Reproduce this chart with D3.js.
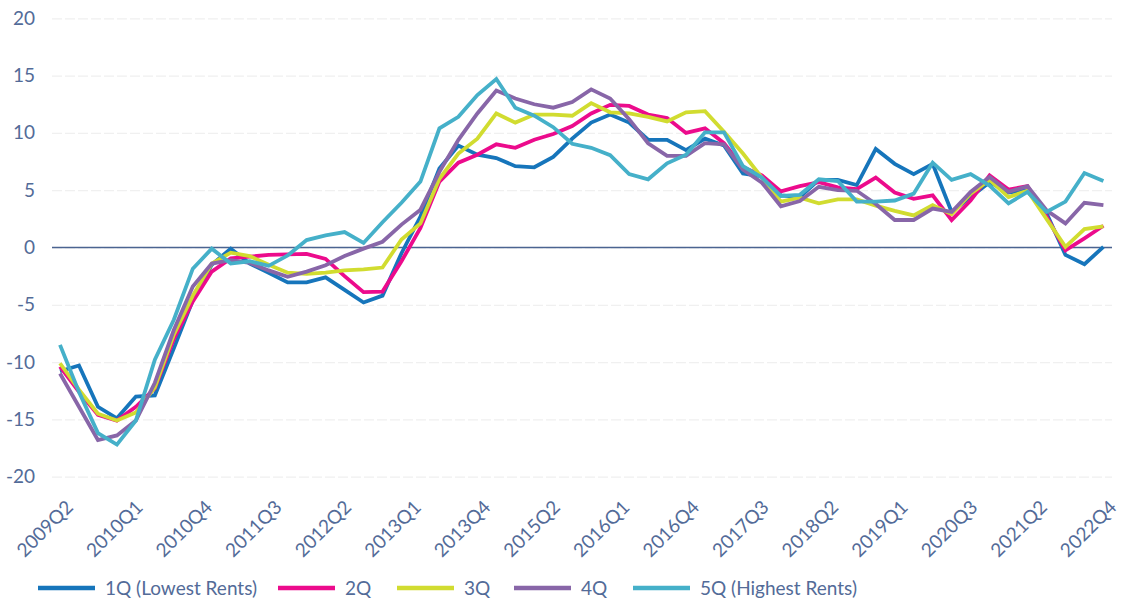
<!DOCTYPE html>
<html>
<head>
<meta charset="utf-8">
<script src="https://cdn.jsdelivr.net/npm/d3@7"></script>
<style>
    body { margin: 0; background: #ffffff; }
    text { font-family: Lato, "Noto Sans", sans-serif; font-weight: 400; fill: #536b98; }
</style>
</head>
<body>
<script>
// quarters on the x axis (one point per quarter)
const quarters = [
    "2009Q1", "2009Q2", "2009Q3", "2009Q4", "2010Q1", "2010Q2", "2010Q3", "2010Q4",
    "2011Q1", "2011Q2", "2011Q3", "2011Q4", "2012Q1", "2012Q2", "2012Q3", "2012Q4",
    "2013Q1", "2013Q2", "2013Q3", "2013Q4", "2014Q1", "2014Q2", "2014Q3", "2014Q4",
    "2015Q1", "2015Q2", "2015Q3", "2015Q4", "2016Q1", "2016Q2", "2016Q3", "2016Q4",
    "2017Q1", "2017Q2", "2017Q3", "2017Q4", "2018Q1", "2018Q2", "2018Q3", "2018Q4",
    "2019Q1", "2019Q2", "2019Q3", "2019Q4", "2020Q1", "2020Q2", "2020Q3", "2020Q4",
    "2021Q1", "2021Q2", "2021Q3", "2021Q4", "2022Q1", "2022Q2", "2022Q3", "2022Q4"
];

// labels shown under the axis
const tick_labels = ["2009Q2", "2010Q1", "2010Q4", "2011Q3", "2012Q2", "2013Q1", "2013Q4", "2015Q2",
    "2016Q1", "2016Q4", "2017Q3", "2018Q2", "2019Q1", "2020Q3", "2021Q2", "2022Q4"];
const y_ticks = [-20, -15, -10, -5, 0, 5, 10, 15, 20];

const series_names = ["1Q (Lowest Rents)", "2Q", "3Q", "4Q", "5Q (Highest Rents)"];

const q1_values = [
    -10.8, -10.3, -13.9, -14.9, -13.0, -12.9, -8.8, -4.6,
    -1.5, -0.1, -1.4, -2.2, -3.05, -3.05, -2.6, -3.7,
    -4.8, -4.2, -0.5, 2.7, 6.9, 8.9, 8.1, 7.8,
    7.1, 7.0, 7.9, 9.5, 10.9, 11.6, 10.9, 9.4,
    9.4, 8.5, 9.5, 8.9, 6.45, 6.2, 4.55, 4.4,
    5.9, 5.9, 5.45, 8.6, 7.3, 6.4, 7.3, 3.1,
    4.4, 5.7, 4.8, 5.0, 3.0, -0.65, -1.45, 0.05
];
const q2_values = [
    -10.4, -12.6, -14.6, -15.1, -13.9, -12.3, -8.0, -4.7,
    -2.1, -0.95, -0.8, -0.65, -0.6, -0.55, -1.0, -2.5,
    -3.9, -3.85, -1.2, 1.7, 5.75, 7.4, 8.1, 9.0,
    8.7, 9.4, 9.9, 10.6, 11.7, 12.45, 12.35, 11.6,
    11.3, 10.0, 10.4, 9.1, 7.0, 6.3, 4.9, 5.35,
    5.7, 5.25, 5.1, 6.1, 4.8, 4.25, 4.55, 2.4,
    4.1, 6.3, 5.05, 5.35, 2.7, -0.25, 0.8, 1.9
];
const q3_values = [
    -10.1, -12.4, -14.5, -15.1, -14.4, -12.2, -7.6, -4.2,
    -1.4, -0.45, -0.75, -1.5, -2.2, -2.3, -2.2, -2.0,
    -1.9, -1.75, 0.7, 2.1, 6.0, 8.2, 9.5, 11.7,
    10.9, 11.6, 11.6, 11.5, 12.6, 11.8, 11.7, 11.4,
    11.0, 11.8, 11.9, 10.1, 8.2, 6.1, 4.0, 4.35,
    3.85, 4.2, 4.2, 3.65, 3.2, 2.8, 3.7, 2.9,
    4.7, 5.9, 4.4, 4.95, 2.5, 0.05, 1.6, 1.85
];
const q4_values = [
    -11.0, -13.9, -16.8, -16.4, -15.1, -11.8, -7.2, -3.4,
    -1.4, -1.1, -1.35, -2.0, -2.55, -2.1, -1.55, -0.75,
    -0.1, 0.5, 2.0, 3.3, 6.6, 9.4, 11.7, 13.7,
    13.0, 12.5, 12.2, 12.7, 13.8, 13.0, 11.2, 9.1,
    8.0, 8.0, 9.1, 9.0, 6.8, 5.65, 3.6, 4.05,
    5.3, 5.0, 4.95, 3.8, 2.4, 2.4, 3.4, 3.1,
    4.85, 6.15, 4.85, 5.35, 3.25, 2.1, 3.9, 3.7
];
const q5_values = [
    -8.5, -12.6, -16.2, -17.2, -15.1, -9.8, -6.3, -1.85,
    -0.1, -1.4, -1.2, -1.6, -0.7, 0.65, 1.05, 1.35,
    0.4, 2.2, 3.9, 5.75, 10.4, 11.4, 13.3, 14.7,
    12.2, 11.5, 10.5, 9.05, 8.7, 8.05, 6.4, 5.95,
    7.35, 8.1, 10.05, 10.05, 7.1, 6.1, 4.5, 4.6,
    5.95, 5.8, 4.0, 4.0, 4.1, 4.7, 7.4, 5.9,
    6.4, 5.4, 3.85, 4.85, 3.1, 4.0, 6.5, 5.8
];

const series_colors = ["#1675bb", "#ec0b8c", "#d1dc30", "#8866a8", "#45b0c9"];
const legend_x = [38, 278, 397, 514, 633];

const series = [q1_values, q2_values, q3_values, q4_values, q5_values];

const total_width = 1124;
const total_height = 606;
const plot = { left: 52, right: 1112, top: 18.3, bottom: 476.7, first: 60, last: 1103.4 };
const font_size = "19px";

const svg = d3.select("body").append("svg")
    .attr("width", total_width)
    .attr("height", total_height);

const x = d3.scaleLinear()
    .domain([0, quarters.length - 1])
    .range([plot.first, plot.last]);

const y = d3.scaleLinear()
    .domain([-20, 20])
    .range([plot.bottom, plot.top]);

// y axis with faint dashed gridlines
const y_axis = svg.append("g")
    .attr("class", "y_axis")
    .attr("transform", "translate(" + plot.left + ",0)")
    .call(d3.axisLeft(y)
        .tickValues(y_ticks)
        .tickFormat(function (d) { return String(d); })
        .tickSizeInner(-(plot.right - plot.left))
        .tickSizeOuter(0)
        .tickPadding(17));
y_axis.select(".domain").remove();
y_axis.selectAll("line")
    .attr("stroke", "#f0f0f0")
    .attr("stroke-width", 1.2)
    .attr("stroke-dasharray", "10,3");
y_axis.selectAll("text")
    .attr("font-size", font_size)
    .attr("fill", "#536b98");

// zero line
svg.append("line")
    .attr("x1", plot.left)
    .attr("x2", plot.right)
    .attr("y1", y(0))
    .attr("y2", y(0))
    .attr("stroke", "#4b6491")
    .attr("stroke-width", 1.3);

// x labels, spread evenly along the axis
const label_step = (quarters.length - 1) / (tick_labels.length - 1);
svg.append("g")
    .attr("class", "x_axis")
    .selectAll("text")
    .data(tick_labels)
    .enter().append("text")
    .attr("transform", function (d, i) {
        return "translate(" + (x(i * label_step) + 5) + ",499) rotate(-45)";
    })
    .attr("text-anchor", "end")
    .attr("dy", "0.7em")
    .attr("font-size", font_size)
    .text(function (d) { return d; });

// series lines
const line = d3.line()
    .x(function (d, i) { return x(i); })
    .y(function (d) { return y(d); });

svg.selectAll(".series_line")
    .data(series)
    .enter().append("path")
    .attr("class", "series_line")
    .attr("fill", "none")
    .attr("stroke", function (d, i) { return series_colors[i]; })
    .attr("stroke-width", 3.8)
    .attr("d", line);

// legend
const legend = svg.append("g").attr("class", "legend");
const items = legend.selectAll("g")
    .data(series_names)
    .enter().append("g")
    .attr("transform", function (d, i) { return "translate(" + legend_x[i] + ",588)"; });
items.append("line")
    .attr("x1", 0).attr("x2", 57)
    .attr("stroke", function (d, i) { return series_colors[i]; })
    .attr("stroke-width", 4.5);
items.append("text")
    .attr("x", 67)
    .attr("dy", "0.35em")
    .attr("font-size", font_size)
    .text(function (d) { return d; });
</script>
</body>
</html>
